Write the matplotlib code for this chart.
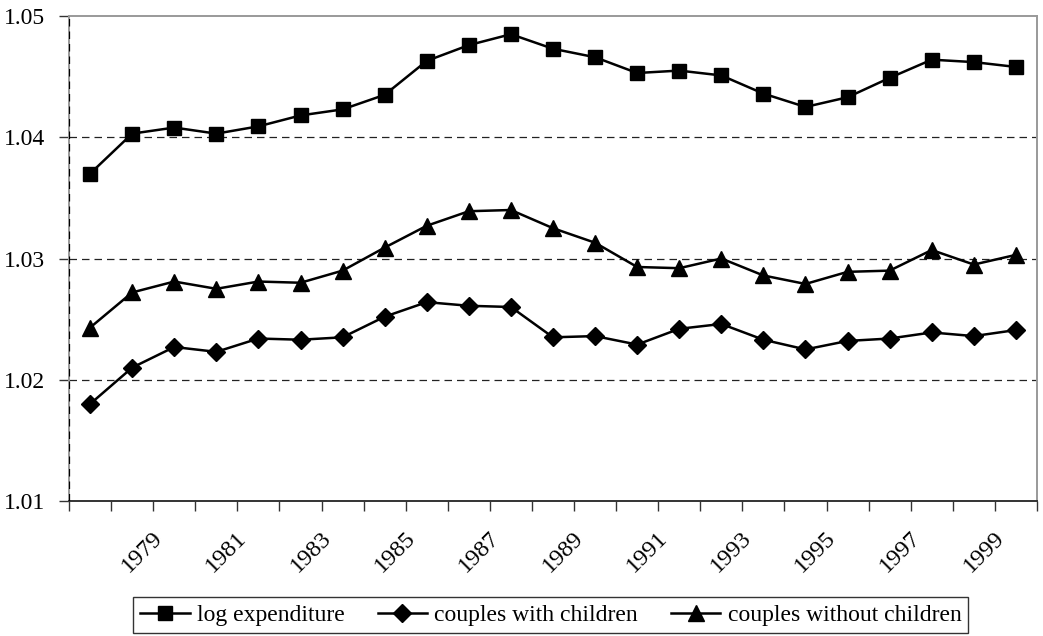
import matplotlib.pyplot as plt
from matplotlib.ticker import FixedLocator, NullFormatter

plt.rcParams['font.family'] = ['Liberation Serif', 'DejaVu Serif']

years = list(range(1977, 2000))
year_labels = list(range(1979, 2000, 2))
log_expenditure = [1.0370, 1.0403, 1.0408, 1.0403, 1.0409, 1.0418, 1.0423, 1.0435,
                   1.0463, 1.0476, 1.0485, 1.0473, 1.0466, 1.0453, 1.0455, 1.0451,
                   1.0436, 1.0425, 1.0433, 1.0449, 1.0464, 1.0462, 1.0458]
with_children = [1.0180, 1.0210, 1.0227, 1.0223, 1.0234, 1.0233, 1.0235, 1.0252,
                 1.0264, 1.0261, 1.0260, 1.0235, 1.0236, 1.0229, 1.0242, 1.0246,
                 1.0233, 1.0225, 1.0232, 1.0234, 1.0239, 1.0236, 1.0241]
without_children = [1.0243, 1.0272, 1.0281, 1.0275, 1.0281, 1.0280, 1.0290, 1.0309,
                    1.0327, 1.0339, 1.0340, 1.0325, 1.0313, 1.0293, 1.0292, 1.0300,
                    1.0286, 1.0279, 1.0289, 1.0290, 1.0307, 1.0295, 1.0303]
y_ticks = [1.01, 1.02, 1.03, 1.04, 1.05]

fig = plt.figure(figsize=(10.43, 6.36), dpi=100)
ax = fig.add_axes([0.0662, 0.2123, 0.9280, 0.7625])

x = list(range(len(years)))
ax.plot(x, log_expenditure, color='black', lw=1.8, marker='s', ms=9.5,
        label='log expenditure')
ax.plot(x, with_children, color='black', lw=1.8, marker='D', ms=9,
        label='couples with children')
ax.plot(x, without_children, color='black', lw=1.8, marker='^', ms=11,
        label='couples without children')

ax.set_xlim(-0.5, len(years) - 0.5)
ax.set_ylim(1.01, 1.05)
ax.set_yticks(y_ticks)
ax.set_yticklabels([f'{v:.2f}' for v in y_ticks], fontsize=17)

# gridlines and the dashed line over the left edge
for v in y_ticks[1:-1]:
    ax.axhline(v, color='#222222', lw=0.9, ls=(0, (6, 4)), zorder=0)
ax.axvline(-0.5, color='black', lw=0.9, ls=(0, (6, 4)), zorder=3)

# category boundary ticks, labels on odd years from 1979
ax.xaxis.set_major_locator(FixedLocator([i - 0.5 for i in range(len(years) + 1)]))
ax.xaxis.set_major_formatter(NullFormatter())
ax.tick_params(axis='x', which='major', length=7, width=1, color='#333333')
ax.tick_params(axis='y', length=7, width=1, color='#333333', pad=10)
for yr in year_labels:
    i = years.index(yr)
    ax.text(i - 0.53, 1.01 - 0.0022, str(yr), rotation=45, ha='right', va='top',
            rotation_mode='anchor', fontsize=17.5)

for side in ('top', 'right', 'left'):
    ax.spines[side].set_color('#999999')
    ax.spines[side].set_linewidth(1.4)
ax.spines['bottom'].set_color('#333333')
ax.spines['bottom'].set_linewidth(1.4)

leg = fig.legend(loc='center', bbox_to_anchor=(0.528, 0.033),
                 ncol=3, fontsize=17, frameon=True, fancybox=False,
                 edgecolor='black', handlelength=2.1, handletextpad=0.3,
                 columnspacing=1.4, borderpad=0.3, borderaxespad=0)
leg.get_frame().set_linewidth(1.0)

fig.savefig('out.png', dpi=100)
